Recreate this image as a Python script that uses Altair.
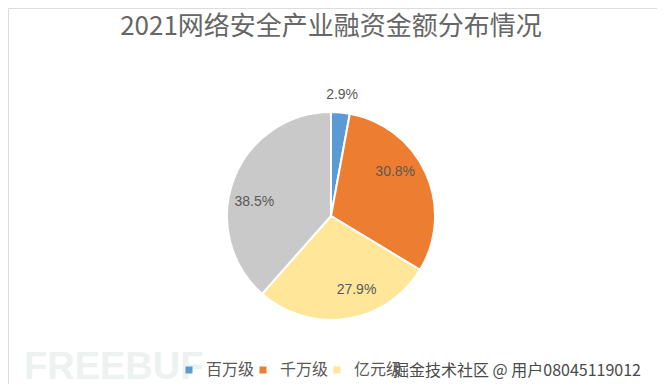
import altair as alt
import pandas as pd

categories = ["百万级", "千万级", "亿元级", "十亿元级"]
values = [2.9, 30.8, 27.9, 38.5]
colors = ["#5B9BD5", "#ED7D31", "#FFE699", "#C9C9C9"]
title_text = "2021网络安全产业融资金额分布情况"
watermark_text = "掘金技术社区 @ 用户08045119012"
logo_text = "FREEBUF"

df = pd.DataFrame({
    "cat": categories,
    "value": values,
    "idx": list(range(len(categories))),
    "label": [f"{v}%" for v in values],
})

W, H = 649, 376
CX, CY = 323, 208

base = alt.Chart(df).encode(
    theta=alt.Theta("value:Q", stack=True),
    order=alt.Order("idx:Q"),
)

pie = base.mark_arc(outerRadius=104, stroke="white", strokeWidth=2).encode(
    x=alt.value(CX),
    y=alt.value(CY),
    color=alt.Color(
        "cat:N",
        scale=alt.Scale(domain=categories, range=colors),
        sort=categories,
        legend=alt.Legend(
            orient="none",
            direction="horizontal",
            legendX=173,
            legendY=354,
            title=None,
            values=categories[:3],
            symbolType="square",
            symbolSize=49,
            symbolStrokeWidth=0,
            labelFont="Noto Sans CJK SC",
            labelFontSize=16,
            labelColor="#595959",
            columnPadding=0,
            symbolOffset=0,
            labelOffset=9,
            padding=0,
        ),
    ),
)

labels = base.mark_text(
    font="Liberation Sans", fontSize=14, color="#595959"
).transform_calculate(
    r="datum.value < 5 ? 122 : 78"
).encode(
    x=alt.value(CX),
    y=alt.value(CY),
    radius=alt.Radius("r:Q", scale=None),
    text="label:N",
)

title = alt.Chart(pd.DataFrame({"t": [title_text]})).mark_text(
    font="Noto Sans CJK SC", fontSize=26, color="#666666", align="center", baseline="middle"
).encode(x=alt.value(323), y=alt.value(19), text="t:N")

logo = alt.Chart(pd.DataFrame({"t": [logo_text]})).mark_text(
    font="Liberation Sans", fontSize=38, fontWeight="bold", color="#EDF1EF",
    align="left", baseline="alphabetic"
).encode(x=alt.value(16), y=alt.value(371), text="t:N")

wm = alt.Chart(pd.DataFrame({"t": [watermark_text]})).mark_text(
    font="Noto Sans CJK SC", fontSize=16, color="#4A4A4A", align="left", baseline="middle"
).encode(x=alt.value(385), y=alt.value(363), text="t:N")

chart = alt.layer(logo, pie, labels, title, wm).properties(
    width=W, height=H, autosize=alt.AutoSizeParams(type="none"), padding=0
).configure_view(stroke=None).configure(background="white")

chart.save("out.html", embed_options={"renderer": "svg", "actions": False})
